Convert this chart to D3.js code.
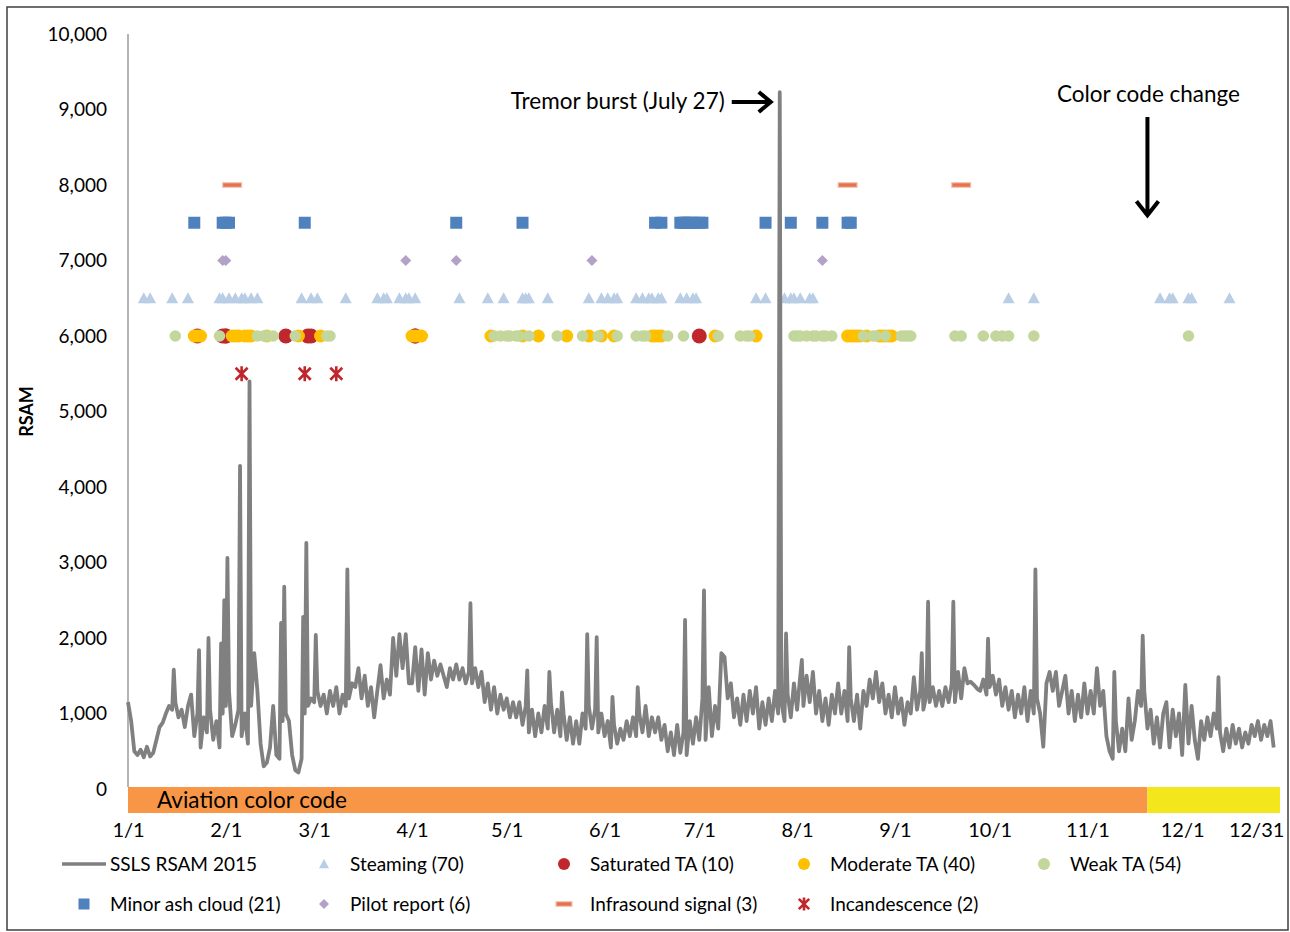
<!doctype html>
<html lang="en">
    <head>
        <meta charset="utf-8">
        <title>SSLS RSAM 2015</title>
        <style type="text/css">
            body{ margin:0; background:#fff; }
            svg text{ font-family: Lato, "Open Sans", Arial, sans-serif; fill:#000; }
        </style>
    </head>
    <body>
        <div id="vis"></div>
        <script src="https://d3js.org/d3.v7.min.js"></script>
        <script type="text/javascript">
            // daily RSAM, one value per day
            var rsamJan = [1150,900,500,450,520,420,560,430,480,650,820,880,1000,1100,1050,1150,950,1050,820,1100,1250,700,1000,550,950,750,1050,650,900,550,1000];
            var rsamFeb = [1100,1300,700,850,1050,700,1000,600,1100,1800,1300,600,300,350,550,1100,450,400,900,1000,900,450,250,220,400,1000,1100,1200];
            var rsamMar = [1150,1300,1100,1250,1000,1300,1100,1350,1000,1250,1100,1200,1400,1350,1600,1200,1500,1100,1350,950,1300,1640,1200,1450,1250,2000,1500,2050,1600,2050,1400];
            var rsamApr = [1400,1880,1300,1850,1250,1800,1450,1700,1500,1650,1500,1350,1600,1450,1650,1450,1600,1400,1550,1400,1600,1350,1550,1150,1400,1050,1350,1000,1250,1050];
            var rsamMay = [1200,950,1150,950,1150,850,1100,750,1050,700,1000,750,1100,800,1150,750,1050,700,1000,650,950,600,900,600,1000,800,1100,800,1050,750,1000];
            var rsamJun = [700,900,550,850,600,800,650,900,700,950,700,1000,750,1100,700,950,750,950,650,850,500,750,450,850,480,750,450,900,600,950];
            var rsamJul = [650,1200,650,1350,700,1100,800,1800,1750,1200,1400,950,1200,850,1250,900,1300,1000,1350,800,1150,850,1200,900,1300,1000,1150,900,1250,950,1400];
            var rsamAug = [1050,1500,1100,1500,1150,1550,1000,1300,900,1200,850,1250,1000,1400,1000,1300,900,1200,900,1250,800,1300,1100,1450,1200,1550,1150,1400,1000,1250,950];
            var rsamSep = [1350,1000,1200,850,1150,1000,1480,1050,1300,1050,1250,1150,1350,1100,1300,1100,1350,1150,1400,1150,1550,1200,1600,1400,1420,1380,1330,1300,1450,1250];
            var rsamOct = [1350,1500,1250,1450,1100,1350,1050,1300,950,1250,1000,1350,900,1300,1000,1200,1000,560,1400,1550,1300,1550,1100,1300,1500,1000,1300,900,1250,950,1400];
            var rsamNov = [1000,1300,1000,1600,1100,1300,700,500,400,900,500,800,500,1200,650,900,1300,1100,1300,800,1050,600,950,550,1000,1150,550,1050,700,1000];
            var rsamDec = [450,1380,600,1100,650,400,900,650,950,700,1000,800,750,500,800,550,850,600,800,550,750,600,850,700,900,650,850,700,900,550];

            // short spikes between daily values [day, RSAM]
            var rsamSpikes = [["1/15",1580],["1/23",1840],["1/26",2000],["1/30",1930],["1/31",2500],["2/1",3060],
                ["2/5",4280],["2/8",5400],["2/18",2200],["2/19",2680],["2/25",2280],["2/26",3260],["3/1",2040],
                ["3/11",2910],["4/19",2460],["5/7",1570],["5/14",1550],["5/18",1280],["5/26",2050],["5/29",2010],
                ["6/3",1220],["6/11",1350],["6/26",2240],["7/2",2630],["7/26",9230],["7/28",2060],["8/2",1710],
                ["8/17",1880],["9/9",1800],["9/11",2480],["9/19",2480],["9/30",1990],["10/15",2910],
                ["11/9",1550],["11/18",2030],["12/12",1480]];

            var steaming = ["1/6","1/8","1/15","1/20","1/30","1/31","2/2","2/4","2/6","2/7","2/9","2/11","2/25","2/28","3/2",
                "3/11","3/21","3/23","3/24","3/28","3/30","3/31","4/2","4/16","4/25","4/30","5/6","5/7","5/8","5/14",
                "5/27","5/31","6/2","6/4","6/5","6/11","6/13","6/15","6/16","6/18","6/19","6/25","6/27","6/29","6/30",
                "7/19","7/22","7/28","7/30","7/31","8/2","8/5","8/6","10/7","10/15","11/24","11/27","11/28","12/3","12/4","12/16"];
            var saturatedTA = ["1/23","1/31","2/1","2/1","2/20","2/27","2/28","4/2","4/2","7/1"];
            var moderateTA = ["1/22","1/23","1/24","2/3","2/4","2/5","2/7","2/8","2/9","2/14","2/24","3/3","4/1","4/2","4/3","4/4",
                "4/26","5/6","5/11","5/20","5/27","5/31","6/4","6/16","6/17","6/18","6/19","7/6","7/19","8/17","8/18",
                "8/19","8/20","8/21","8/23","8/27","8/28","8/29","8/30","8/31"];
            var weakTA = ["1/16","1/30","2/11","2/13","2/14","2/16","2/23","3/5","3/6","4/27","4/29","5/1","5/2","5/4","5/5","5/8",
                "5/17","5/25","5/30","6/5","6/11","6/13","6/14","6/21","6/26","7/7","7/14","7/16","7/17","7/31","8/1",
                "8/2","8/4","8/6","8/7","8/9","8/10","8/12","8/22","8/25","8/26","8/29","9/3","9/4","9/5","9/6",
                "9/20","9/22","9/29","10/3","10/5","10/7","10/15","12/3"];
            var ashCloud = ["1/22","1/31","2/1","2/2","2/26","4/15","5/6","6/17","6/19","6/25","6/26","6/27","6/28","6/29",
                "7/1","7/2","7/22","7/30","8/9","8/17","8/18"];
            var pilotReport = ["1/31","2/1","3/30","4/15","5/28","8/9"];
            var infrasound = ["2/3","8/17","9/22"];
            var incandescence = ["2/6","2/26","3/8"];

            var colorCodes = [{code:"orange", start:"1/1", end:"11/19"}, {code:"yellow", start:"11/20", end:"12/31"}];
            var monthTicks = ["1/1","2/1","3/1","4/1","5/1","6/1","7/1","8/1","9/1","10/1","11/1","12/1","12/31"];
            var yTicks = [0,1000,2000,3000,4000,5000,6000,7000,8000,9000,10000];

            var parse = d3.timeParse('%m/%d/%Y');
            function dt(s){ return parse(s + '/2015'); }

            var series = [
                {name:'Steaming (70)', dates:steaming, level:6500, shape:'triangle', color:'#b9cde5', size:12, lsize:10},
                {name:'Saturated TA (10)', dates:saturatedTA, level:6000, shape:'circle', color:'#c0272d', size:15, lsize:12},
                {name:'Moderate TA (40)', dates:moderateTA, level:6000, shape:'circle', color:'#ffc000', size:13, lsize:12},
                {name:'Weak TA (54)', dates:weakTA, level:6000, shape:'circle', color:'#c3d69b', size:11.5, lsize:12},
                {name:'Minor ash cloud (21)', dates:ashCloud, level:7500, shape:'square', color:'#4f81bd', size:12, lsize:11},
                {name:'Pilot report (6)', dates:pilotReport, level:7000, shape:'diamond', color:'#b3a2c7', size:11, lsize:10},
                {name:'Infrasound signal (3)', dates:infrasound, level:8000, shape:'dash', color:'#e4724c', size:19, lsize:16},
                {name:'Incandescence (2)', dates:incandescence, level:5500, shape:'star', color:'#c0272d', size:15, lsize:13}
            ];

            function marker(g, s, sz){
                var h = sz/2;
                if(s.shape == 'circle'){
                    g.append('circle').attr('r', h).attr('fill', s.color);
                } else if(s.shape == 'triangle'){
                    g.append('path').attr('d', 'M0,'+(-h)+'L'+h+','+(h*0.85)+'L'+(-h)+','+(h*0.85)+'Z').attr('fill', s.color);
                } else if(s.shape == 'square'){
                    g.append('rect').attr('x',-h).attr('y',-h).attr('width',sz).attr('height',sz).attr('fill', s.color);
                } else if(s.shape == 'diamond'){
                    g.append('path').attr('d', 'M0,'+(-h)+'L'+h+',0L0,'+h+'L'+(-h)+',0Z').attr('fill', s.color);
                } else if(s.shape == 'dash'){
                    g.append('rect').attr('x',-h).attr('y',-2.3).attr('width',sz).attr('height',4.6)
                        .attr('fill', s.color).attr('stroke','#f3c4b4').attr('stroke-width',1.2);
                } else if(s.shape == 'star'){
                    var a = h*0.8;
                    g.append('path').attr('d', 'M'+(-a)+','+(-a)+'L'+a+','+a+'M'+a+','+(-a)+'L'+(-a)+','+a+'M0,'+(-h)+'L0,'+h)
                        .attr('stroke', s.color).attr('stroke-width', 2.6).attr('fill','none');
                }
            }

            var svg = d3.select('#vis').append('svg').attr('width',1290).attr('height',932);
            svg.append('rect').attr('x',7).attr('y',7).attr('width',1281).attr('height',923)
                .attr('fill','#fff').attr('stroke','#3f3f3f').attr('stroke-width',1.5);

            var x = d3.scaleTime().domain([new Date(2015,0,1), new Date(2016,0,1)]).range([128,1280]),
                y = d3.scaleLinear().domain([0,10000]).range([789,34]);

            // aviation color code band
            var band = svg.append('g');
            band.selectAll('rect').data(colorCodes).enter().append('rect')
                .attr('x', function(d){ return x(dt(d.start)); })
                .attr('width', function(d){ return x(d3.timeDay.offset(dt(d.end),1)) - x(dt(d.start)); })
                .attr('y', y(0)-2).attr('height', 26)
                .attr('fill', function(d){ return d.code == 'orange' ? '#f79646' : '#f4e61d'; });
            band.append('text').attr('x', x(dt(colorCodes[0].start)) + 29).attr('y', y(0)+11).attr('dy','.35em')
                .style('font-size','22.5px').text('Aviation color code');

            // axes
            svg.append('line').attr('x1',128).attr('x2',128).attr('y1',y(10000)).attr('y2',y(0)-2)
                .attr('stroke','#8c8c8c').attr('stroke-width',1.3);

            var yAxis = svg.append('g').attr('transform','translate(128,0)')
                .call(d3.axisLeft(y).tickValues(yTicks).tickFormat(d3.format(',')).tickSize(0).tickPadding(21));
            yAxis.select('.domain').remove();
            yAxis.selectAll('text').style('font-size','19px').style('font-family','Lato, sans-serif');

            var xAxis = svg.append('g').attr('transform','translate(0,' + (y(0)+24) + ')')
                .call(d3.axisBottom(x).tickValues(monthTicks.map(dt)).tickFormat(d3.timeFormat('%-m/%-d')).tickSize(0).tickPadding(10));
            xAxis.select('.domain').remove();
            xAxis.selectAll('text').style('font-size','20px').style('font-family','Lato, sans-serif');
            xAxis.selectAll('.tick:last-of-type text').attr('text-anchor','end').attr('dx', 7);

            svg.append('text').attr('transform','translate(27,' + y(5000) + ') rotate(-90)').attr('text-anchor','middle')
                .attr('dy','.35em').style('font-size','18px').style('font-weight','bold').text('RSAM');

            // event markers
            series.forEach(function(s){
                svg.append('g').selectAll('g').data(s.dates).enter().append('g')
                    .attr('transform', function(d){ return 'translate(' + x(dt(d)) + ',' + y(s.level) + ')'; })
                    .each(function(){ marker(d3.select(this), s, s.size); });
            });

            // RSAM line
            var rsam = [];
            [rsamJan,rsamFeb,rsamMar,rsamApr,rsamMay,rsamJun,rsamJul,rsamAug,rsamSep,rsamOct,rsamNov,rsamDec].forEach(function(vals, m){
                vals.forEach(function(v, i){ rsam.push({date: new Date(2015, m, i+1), value: v}); });
            });
            rsamSpikes.forEach(function(s){ rsam.push({date: d3.timeHour.offset(dt(s[0]), 12), value: s[1]}); });
            rsam.sort(function(a,b){ return a.date - b.date; });

            var line = d3.line().x(function(d){ return x(d.date); }).y(function(d){ return y(d.value); });
            svg.append('path').datum(rsam).attr('d', line).attr('fill','none')
                .attr('stroke','#808080').attr('stroke-width',3.8).attr('stroke-linejoin','round');

            // annotations
            var burst = rsamSpikes.filter(function(s){ return s[1] > 9000; })[0];
            var tx = x(d3.timeHour.offset(dt(burst[0]),12)) - 9, ty = y(9100);
            svg.append('path').attr('d','M'+(tx-39)+','+ty+'L'+(tx-2)+','+ty+'M'+(tx-12)+','+(ty-10)+'L'+tx+','+ty+'L'+(tx-12)+','+(ty+10))
                .attr('stroke','#000').attr('stroke-width',4).attr('fill','none');
            svg.append('text').attr('x', tx-46).attr('y', ty).attr('dy','.3em').attr('text-anchor','end')
                .style('font-size','22.5px').text('Tremor burst (July 27)');

            var cx = x(dt(colorCodes[1].start)), cy1 = y(8900), cy2 = y(7600);
            svg.append('path').attr('d','M'+cx+','+cy1+'L'+cx+','+(cy2-2)+'M'+(cx-11)+','+(cy2-14)+'L'+cx+','+cy2+'L'+(cx+11)+','+(cy2-14))
                .attr('stroke','#000').attr('stroke-width',4).attr('fill','none');
            svg.append('text').attr('x', cx+1).attr('y', y(9200)).attr('dy','.35em').attr('text-anchor','middle')
                .style('font-size','22.5px').text('Color code change');

            // legend
            var items = [{name:'SSLS RSAM 2015', shape:'line'}].concat(series);
            var legend = svg.append('g').selectAll('g').data(items).enter().append('g')
                .attr('transform', function(d,i){ return 'translate(' + (110 + (i%5)*240) + ',' + (864 + Math.floor(i/5)*40) + ')'; });
            legend.each(function(d){
                var g = d3.select(this);
                if(d.shape == 'line'){
                    g.append('line').attr('x1',-48).attr('x2',-4).attr('stroke','#808080').attr('stroke-width',3.5);
                } else {
                    marker(g.append('g').attr('transform','translate(-26,0)'), d, d.lsize);
                }
                g.append('text').attr('dy','.35em').style('font-size','19px').text(d.name);
            });
        </script>
    </body>
</html>
